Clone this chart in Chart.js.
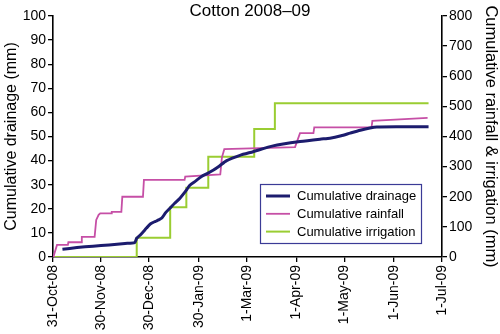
<!DOCTYPE html>
<html><head><meta charset="utf-8">
<script src="https://cdn.jsdelivr.net/npm/chart.js@4.4.0/dist/chart.umd.min.js"></script>
<style>html,body{margin:0;padding:0;background:#fff}#wrap{width:500px;height:334px;position:relative}</style>
</head><body><div id="wrap"><canvas id="c" width="500" height="334"></canvas></div>
<script>
// ---- data (x = days since 31-Oct-08) ----
const chartTitle = 'Cotton 2008\u201309';
const tickDays = [0, 30, 60, 91, 121, 152, 182, 213, 243];
const tickLabels = ['31-Oct-08', '30-Nov-08', '30-Dec-08', '30-Jan-09', '1-Mar-09', '1-Apr-09', '1-May-09', '1-Jun-09', '1-Jul-09'];
const seriesNames = ['Cumulative drainage', 'Cumulative rainfall', 'Cumulative irrigation'];

const drainDays   = [5.9, 15, 25, 35, 45, 51, 52.3, 54, 56, 58.4, 61, 64, 66, 68, 70.5, 73, 76, 79.3, 82.5, 85.5, 89, 93, 96, 100, 104, 108.5, 116.8, 125, 137.5, 154.3, 166.8, 173, 180, 185.6, 192, 198, 202.3, 215, 234.6];
const drainValues = [3.2, 3.9, 4.5, 5.0, 5.6, 6.0, 7.8, 8.8, 10.2, 12.0, 13.8, 14.8, 15.4, 16.2, 18.5, 20.2, 22.3, 24.4, 27.0, 29.8, 31.5, 33.5, 34.5, 36.0, 37.8, 40.0, 42.2, 43.7, 46.1, 47.9, 48.9, 49.3, 50.3, 51.4, 52.6, 53.5, 53.9, 54.0, 54.0];

const rainDays   = [0, 0.5, 2.5, 9.3, 9.6, 17.7, 18.0, 26.0, 27.0, 28.5, 29.5, 36.4, 36.7, 42.7, 43.3, 56.2, 56.8, 82.2, 82.6, 104.5, 105.5, 107, 151.2, 154.3, 162.7, 163.2, 199.0, 199.5, 234];
const rainValues = [0, 5, 40, 40, 49, 49, 67, 67, 123, 140, 145, 145, 150, 150, 200, 200, 256, 256, 267, 274, 330, 358, 365, 411, 411, 430, 430, 452, 462];

const irrDays   = [0, 52.3, 73.2, 83.3, 97.0, 125.7, 138.6, 234.6];
const irrValues = [0, 64, 165, 230, 333, 425, 510, 510];

const colors = ['#1c1c6e', '#c64fa6', '#9acd32'];

function pts(xs, ys) { return xs.map((x, i) => ({ x: x, y: ys[i] })); }

const FONT = "'Liberation Sans', Arial, Helvetica, sans-serif";
Chart.defaults.font.family = FONT;
Chart.defaults.color = '#000';

const overlay = {
  id: 'overlay',
  afterDraw(chart) {
    const ctx = chart.ctx;
    ctx.save();
    // title
    ctx.fillStyle = '#000';
    ctx.font = "17px " + FONT;
    ctx.textAlign = 'center';
    ctx.textBaseline = 'alphabetic';
    ctx.fillText(chartTitle, 250, 15.5);
    // legend
    const bx = 260.5, by = 184.5, bw = 161, bh = 59;
    ctx.fillStyle = '#fff';
    ctx.fillRect(bx, by, bw, bh);
    ctx.strokeStyle = '#3b3b96';
    ctx.lineWidth = 1.2;
    ctx.strokeRect(bx, by, bw, bh);
    ctx.font = "13px " + FONT;
    ctx.textAlign = 'left';
    ctx.textBaseline = 'middle';
    chart.data.datasets.forEach((ds, i) => {
      const y = 196 + i * 17.8;
      ctx.strokeStyle = ds.borderColor;
      ctx.lineWidth = ds.borderWidth;
      ctx.beginPath(); ctx.moveTo(266, y); ctx.lineTo(290, y); ctx.stroke();
      ctx.fillStyle = '#000';
      ctx.fillText(ds.label, 297, y + 0.5);
    });
    ctx.restore();
  }
};

const axisGrid = { drawOnChartArea: false, drawTicks: true, tickLength: 5, color: '#000', lineWidth: 1.3 };
const axisBorder = { display: true, color: '#000', width: 1.6 };

new Chart(document.getElementById('c'), {
  type: 'line',
  data: {
    datasets: [
      { label: seriesNames[0], data: pts(drainDays, drainValues), borderColor: colors[0], borderWidth: 3, pointRadius: 0, tension: 0.2, yAxisID: 'y' },
      { label: seriesNames[1], data: pts(rainDays, rainValues), borderColor: colors[1], borderWidth: 1.8, pointRadius: 0, tension: 0, yAxisID: 'y1' },
      { label: seriesNames[2], data: pts(irrDays, irrValues), borderColor: colors[2], borderWidth: 2, pointRadius: 0, stepped: true, yAxisID: 'y1' }
    ]
  },
  options: {
    responsive: false,
    animation: false,
    devicePixelRatio: 1,
    layout: { padding: { top: 16, left: 0, right: 0, bottom: 0 } },
    plugins: { legend: { display: false }, title: { display: false }, tooltip: { enabled: false } },
    scales: {
      x: {
        type: 'linear', min: 0, max: 243,
        afterBuildTicks: s => { s.ticks = tickDays.map(v => ({ value: v })); },
        ticks: {
          autoSkip: false, maxRotation: 90, minRotation: 90, padding: 3,
          font: { size: 14 }, color: '#000',
          callback: v => { const i = tickDays.indexOf(v); return i >= 0 ? tickLabels[i] : ''; }
        },
        grid: axisGrid, border: axisBorder,
        afterFit: s => { s.height = 77; }
      },
      y: {
        position: 'left', min: 0, max: 100,
        ticks: { stepSize: 10, font: { size: 14 }, color: '#000', padding: 2 },
        grid: axisGrid, border: axisBorder,
        title: { display: true, text: 'Cumulative drainage (mm)', font: { size: 16 }, color: '#000', padding: { top: 2, bottom: 0 } },
        afterFit: s => { s.width = 53; }
      },
      y1: {
        position: 'right', min: 0, max: 800,
        ticks: { stepSize: 100, font: { size: 14 }, color: '#000', padding: 2 },
        grid: axisGrid, border: axisBorder,
        title: { display: true, text: 'Cumulative rainfall & irrigation (mm)', font: { size: 16.5 }, color: '#000', padding: { top: 0, bottom: 0 } },
        afterFit: s => { s.width = 58; }
      }
    }
  },
  plugins: [overlay]
});
</script>
</body></html>
